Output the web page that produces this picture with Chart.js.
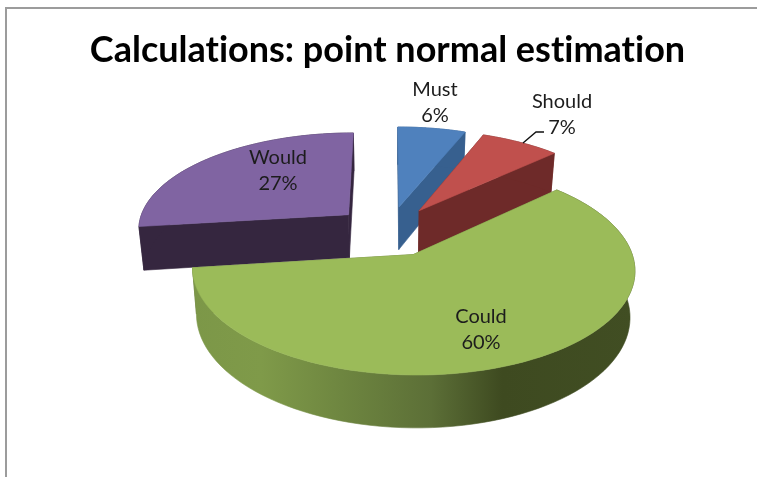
<!DOCTYPE html>
<html>
<head>
<meta charset="utf-8">
<style>
html,body{margin:0;padding:0;background:#fff;}
#wrap{position:relative;width:757px;height:477px;overflow:hidden;}
#frame{position:absolute;left:5px;top:7px;right:-5px;bottom:-5px;border-top:2px solid #9c9c9c;border-left:2px solid #9c9c9c;}
canvas{position:absolute;left:0;top:0;}
</style>
<script src="https://cdn.jsdelivr.net/npm/chart.js@4"></script>
</head>
<body>
<div id="wrap"><div id="frame"></div><canvas id="c" width="757" height="477"></canvas></div>
<script>
const categories = ['Must', 'Should', 'Could', 'Would'];
const shares = [6, 7, 60, 27];
const topColors = ['#4f81bd', '#c0504d', '#9bbb59', '#8064a2'];
const sideColors = ['#37608f', '#6e2a29', '#5f7139', '#35263f'];
const chartTitle = 'Calculations: point normal estimation';

// Placement of the text labels, by category order
const labelAnchors = [[435, 90], [562, 102], [481, 317], [278, 158]];
// Projection of the flat pie plane onto the page
const view = { cx: 389, cy: 231, rx: 212, ry: 97, persp: 0.136, depth: 44, taper: 0.98 };
const explode = 0.26;
const drawOrder = [0, 1, 3, 2];

function project(u, v, lift) {
  const s = 1 / (1 - view.persp * v);
  const x = u * view.rx * s * (lift ? view.taper : 1);
  return [view.cx + x, view.cy + v * view.ry * s + (lift ? view.depth * s : 0)];
}
function fillPoly(ctx, pts, fill) {
  ctx.beginPath();
  pts.forEach((p, i) => i ? ctx.lineTo(p[0], p[1]) : ctx.moveTo(p[0], p[1]));
  ctx.closePath();
  ctx.fillStyle = fill;
  ctx.fill();
  ctx.strokeStyle = fill;
  ctx.lineWidth = 0.6;
  ctx.stroke();
}
const pie3d = {
  id: 'pie3d',
  beforeDraw(chart) {
    chart.ctx.textRendering = 'optimizeSpeed';
  },
  beforeDatasetDraw(chart, args) {
    const ctx = chart.ctx;
    const arcs = chart.getDatasetMeta(args.index).data;
    drawOrder.forEach(i => {
      const a = arcs[i];
      const mid = (a.startAngle + a.endAngle) / 2;
      const ox = Math.cos(mid) * explode, oy = Math.sin(mid) * explode;
      const rim = [];
      const n = 90;
      for (let k = 0; k <= n; k++) {
        const t = a.startAngle + (a.endAngle - a.startAngle) * k / n;
        rim.push([ox + Math.cos(t), oy + Math.sin(t)]);
      }
      const rimTop = rim.map(p => project(p[0], p[1], false));
      const rimBot = rim.map(p => project(p[0], p[1], true));
      const apexT = project(ox, oy, false), apexB = project(ox, oy, true);
      // cut faces
      fillPoly(ctx, [apexT, rimTop[0], rimBot[0], apexB], sideColors[i]);
      fillPoly(ctx, [apexT, rimTop[n], rimBot[n], apexB], sideColors[i]);
      // outer wall
      let wall = sideColors[i];
      if (categories[i] === 'Could') {
        const g = ctx.createLinearGradient(190, 0, 636, 0);
        g.addColorStop(0, '#7c9748');
        g.addColorStop(0.16, '#7f9a49');
        g.addColorStop(0.34, '#6e8640');
        g.addColorStop(0.54, '#5c6f37');
        g.addColorStop(0.70, '#3e4a20');
        g.addColorStop(1, '#414e23');
        wall = g;
      }
      fillPoly(ctx, rimTop.concat(rimBot.slice().reverse()), wall);
      // top face
      fillPoly(ctx, [apexT].concat(rimTop), topColors[i]);
    });
    // leader line of the Should label
    ctx.beginPath();
    ctx.moveTo(523, 143); ctx.lineTo(536, 132); ctx.lineTo(544, 132);
    ctx.strokeStyle = '#111'; ctx.lineWidth = 1.4; ctx.stroke();
    // labels
    ctx.font = '20px Lato, Carlito, sans-serif';
    ctx.fillStyle = '#1c1c1c';
    ctx.textAlign = 'center';
    ctx.textBaseline = 'middle';
    categories.forEach((name, i) => {
      const [x, y] = labelAnchors[i];
      ctx.fillText(name, x, y);
      ctx.fillText(shares[i] + '%', x, y + 26);
    });
    return false;
  }
};
new Chart(document.getElementById('c'), {
  type: 'pie',
  data: { labels: categories, datasets: [{ data: shares, backgroundColor: topColors, borderWidth: 0 }] },
  options: {
    responsive: false,
    animation: false,
    rotation: 0,
    layout: { padding: { left: 18 } },
    plugins: {
      legend: { display: false },
      tooltip: { enabled: false },
      title: {
        display: true, text: chartTitle, color: '#000',
        font: { family: 'Lato, Carlito, sans-serif', size: 36, weight: 'bold' },
        padding: { top: 29, bottom: 10 }
      }
    }
  },
  plugins: [pie3d]
});
</script>
</body>
</html>
